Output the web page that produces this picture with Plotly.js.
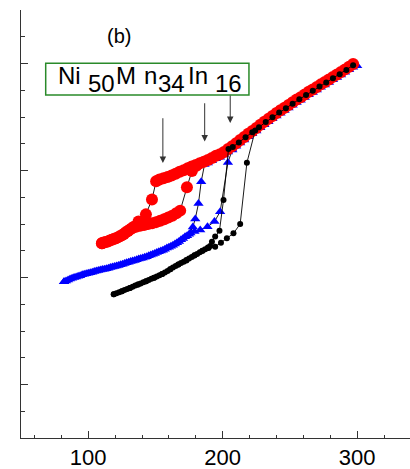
<!DOCTYPE html>
<html><head><meta charset="utf-8">
<script src="https://cdn.plot.ly/plotly-3.0.1.min.js"></script>
<style>html,body{margin:0;padding:0;background:#fff}#chart{width:410px;height:469px}</style>
</head><body><div id="chart"></div>
<script>
// Red circles (lowest-temperature transition sample): cooling then heating
const redCoolT = [297,294,291,288,285,282,279,276,273,270,267,264,261,258,255,252,249,246,243,240,237,234,231,228,225,222,219,216,213,210,207,204,201,198,195,192,189,186,183,180,177,174,171,168,165,162,159,156,153,150.5,147.4,142.9,137.4,134,131,128,125,122,119,116,113,110.2];
const redCoolM = [13.98,13.88,13.78,13.68,13.59,13.50,13.40,13.31,13.22,13.12,13.03,12.94,12.84,12.74,12.65,12.55,12.45,12.35,12.25,12.15,12.04,11.93,11.82,11.71,11.59,11.48,11.37,11.25,11.14,11.02,10.91,10.80,10.69,10.61,10.55,10.47,10.39,10.33,10.27,10.21,10.15,10.08,10.01,9.95,9.88,9.81,9.76,9.71,9.66,9.60,8.92,8.36,8.09,7.90,7.79,7.69,7.58,7.50,7.44,7.38,7.33,7.28];
const redHeatT = [110.2,111.5,114.5,117.5,120.5,123.5,126.5,129.5,132.5,135.5,138.5,141.5,144.5,147.5,150.5,153.5,156.5,159.5,162.5,165.5,168.4,173.4,177.1,180.5];
const redHeatM = [7.28,7.31,7.35,7.41,7.47,7.54,7.63,7.74,7.84,7.90,7.93,7.96,8.00,8.03,8.07,8.12,8.18,8.24,8.31,8.40,8.50,9.37,9.98,10.18];

// Blue triangles
const blueCoolT = [300,297,294,291,288,285,282,279,276,273,270,267,264,261,258,255,252,249,246,243,240,237,234,231,228,225,222,219,216,213,210,207,204,201,198,195,192,189,186.5,184.0,182.0,179.6,177.8,175,172,169,166,163,160,157,154,151,148,145,142,139,136,133,130,127,124,121,118,115,112,109,106,103,100,97,94,91,88,85,82];
const blueCoolM = [13.92,13.86,13.77,13.67,13.57,13.48,13.39,13.29,13.20,13.11,13.01,12.92,12.83,12.73,12.63,12.54,12.44,12.34,12.24,12.14,12.04,11.93,11.82,11.71,11.60,11.48,11.37,11.26,11.14,11.03,10.91,10.80,10.69,10.58,10.50,10.44,10.36,10.28,10.22,9.58,8.77,8.19,7.89,7.62,7.52,7.41,7.30,7.21,7.13,7.06,6.99,6.93,6.87,6.81,6.76,6.71,6.66,6.62,6.57,6.52,6.48,6.43,6.39,6.35,6.31,6.28,6.24,6.20,6.16,6.12,6.07,6.02,5.97,5.91,5.84];
const blueHeatT = [82,83.5,86.5,89.5,92.5,95.5,98.5,101.5,104.5,107.5,110.5,113.5,116.5,119.5,122.5,125.5,128.5,131.5,134.5,137.5,140.5,143.5,146.5,149.5,152.5,155.5,158.5,161.5,164.5,167.5,170.5,173.5,176,179,183.3,188.7,193.9,198.1,203.9,207.1];
const blueHeatM = [5.84,5.87,5.94,6.00,6.05,6.10,6.14,6.18,6.22,6.26,6.30,6.33,6.37,6.41,6.45,6.50,6.55,6.60,6.64,6.69,6.73,6.78,6.84,6.90,6.96,7.02,7.10,7.17,7.25,7.35,7.46,7.56,7.66,7.72,7.78,7.90,8.09,8.46,10.30,10.77];

// Black dots
const blackCoolT = [297,292,287,282,277,272,267,262,257,252,247,242,237,232,227,222,217,212,207.5,204.3,200.6,197.6,194.4,192.0,190.7,189,187,185,183,181,179,177,175,173,171,169,167,165,163,161,159,157,155,153,151,149,147,145,143,141,139,137,135,133,131,129,127,125,123,121,119];
const blackCoolM = [13.93,13.76,13.60,13.45,13.29,13.14,12.98,12.82,12.66,12.50,12.33,12.17,11.99,11.81,11.62,11.43,11.24,11.05,10.88,10.80,8.90,7.75,7.53,7.34,7.18,7.12,7.06,7.00,6.94,6.88,6.82,6.77,6.71,6.65,6.59,6.54,6.49,6.43,6.37,6.31,6.24,6.19,6.13,6.08,6.04,5.99,5.95,5.91,5.86,5.82,5.78,5.74,5.70,5.65,5.61,5.57,5.53,5.49,5.45,5.41,5.37];
const blackHeatT = [119,125,131,137,143,149,155,161,167,173,179,185,189.5,194.4,198.7,203.1,208.0,213.0,218.0,224.2];
const blackHeatM = [5.37,5.49,5.61,5.74,5.86,5.99,6.13,6.31,6.49,6.64,6.83,7.00,7.10,7.15,7.30,7.47,7.65,8.00,10.29,11.50];

// Transition arrows: temperature, arrow tip, arrow tail
const arrowT = [155.5, 186.6, 205.6];
const arrowTip = [10.28, 11.08, 11.78];
const arrowTail = [12.01, 12.57, 12.86];

// Axis ticks
const xTickVals = [100, 200, 300];
const xTickText = ['100', '200', '300'];

const FONT = 'Liberation Sans, Arial, sans-serif';
const lineStyle = {color: '#000', width: 0.9};

function tr(x, y, sym, col, size) {
  return {x: x, y: y, type: 'scatter', mode: 'lines+markers', line: lineStyle,
    marker: {symbol: sym, color: col, size: size, line: {width: 0}}, hoverinfo: 'skip', showlegend: false};
}

const data = [
  tr(blueCoolT, blueCoolM, 'triangle-up', '#0000ff', 9),
  tr(blueHeatT, blueHeatM, 'triangle-up', '#0000ff', 9),
  tr(redCoolT, redCoolM, 'circle', '#ff0000', 12),
  tr(redHeatT, redHeatM, 'circle', '#ff0000', 12),
  tr(blackCoolT, blackCoolM, 'circle', '#000000', 6),
  tr(blackHeatT, blackHeatM, 'circle', '#000000', 6)
];

const annotations = [];
for (let i = 0; i < arrowT.length; i++) {
  annotations.push({x: arrowT[i], y: arrowTip[i], ax: arrowT[i], ay: arrowTail[i], xref: 'x', yref: 'y', axref: 'x', ayref: 'y',
    text: '', showarrow: true, arrowhead: 2, arrowsize: 1.3, arrowwidth: 1, arrowcolor: '#333'});
}
function txt(s, xp, yp, size, anchor) {
  annotations.push({text: s, x: xp, y: yp, xref: 'paper', yref: 'paper', xanchor: anchor || 'left', yanchor: 'middle',
    showarrow: false, font: {family: FONT, size: size, color: '#000'}, borderpad: 0});
}
txt('(b)', 0.2532, 0.9393, 20, 'center');
txt('Ni', 0.0938, 0.8481, 24);
txt('50', 0.1684, 0.8276, 24);
txt('M', 0.2416, 0.8481, 24);
txt('n', 0.3144, 0.8481, 24);
txt('34', 0.3496, 0.8276, 24);
txt('In', 0.4267, 0.8481, 24);
txt('16', 0.4961, 0.8276, 24);

const layout = {
  width: 410, height: 469,
  margin: {l: 21, r: 0, t: 10, b: 31},
  paper_bgcolor: '#fff', plot_bgcolor: '#fff',
  showlegend: false,
  xaxis: {range: [50, 339.3], showgrid: false, zeroline: false, showline: true, linecolor: '#333', linewidth: 1,
    ticks: 'inside', ticklen: 7, tickwidth: 1, tickcolor: '#333', tickmode: 'array', tickvals: xTickVals, ticktext: xTickText,
    tickfont: {family: FONT, size: 22, color: '#000'},
    minor: {tickmode: 'linear', tick0: 0, dtick: 20, ticks: 'inside', ticklen: 3.5, tickwidth: 1, tickcolor: '#333'}},
  yaxis: {range: [0, 16], showgrid: false, zeroline: false, showline: true, linecolor: '#333', linewidth: 1,
    ticks: 'inside', ticklen: 7, tickwidth: 1, tickcolor: '#333', tickmode: 'linear', tick0: 2, dtick: 4, showticklabels: false,
    minor: {tickmode: 'linear', tick0: 0, dtick: 1, ticks: 'inside', ticklen: 4, tickwidth: 1, tickcolor: '#333'}},
  shapes: [{type: 'rect', xref: 'paper', yref: 'paper', x0: 0.0635, x1: 0.586, y0: 0.8014, y1: 0.8755,
    line: {color: '#2a8a2a', width: 1.5}, fillcolor: 'rgba(0,0,0,0)'}],
  annotations: annotations
};

Plotly.newPlot('chart', data, layout, {staticPlot: true, displayModeBar: false});
</script>
</body></html>
